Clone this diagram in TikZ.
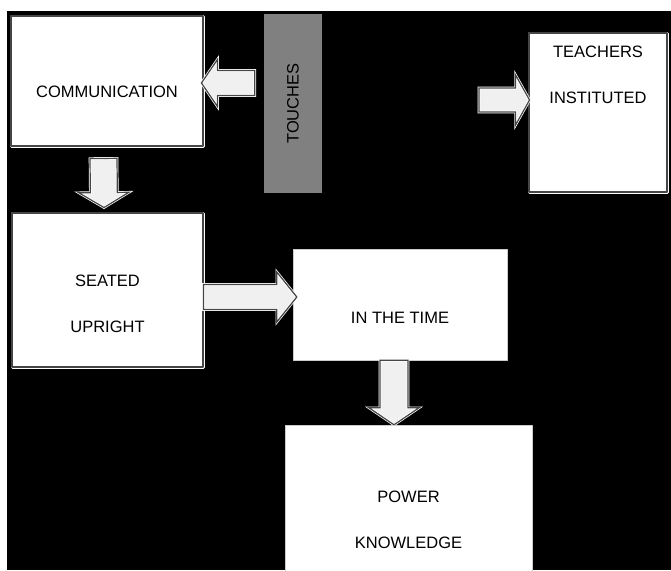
\documentclass[tikz,border=0pt]{standalone}
\usepackage{fontspec}
\setmainfont{Liberation Sans}
\usetikzlibrary{calc}
\definecolor{touchgray}{RGB}{128,128,128}
\definecolor{arrfill}{RGB}{240,240,240}
\definecolor{arrline}{RGB}{70,70,70}
\tikzset{
	ashaft/.store in=\ashaft, ahead/.store in=\ahead, alen/.store in=\alen,
	ashaft=13pt, ahead=25pt, alen=16pt,
	blockarr/.style={fill=arrfill, draw=white, double=arrline, double distance=1.2pt, line width=0.7pt, line join=miter,
		to path={($(\tikztotarget)!\alen!(\tikztostart)$) coordinate (hb)
			($(\tikztostart)!\ashaft!90:(\tikztotarget)$) -- ($(hb)!\ashaft!90:(\tikztotarget)$)
			-- ($(hb)!\ahead!90:(\tikztotarget)$) -- (\tikztotarget) -- ($(hb)!\ahead!-90:(\tikztotarget)$)
			-- ($(hb)!\ashaft!-90:(\tikztotarget)$) -- ($(\tikztostart)!\ashaft!-90:(\tikztotarget)$) -- cycle}},
	framebox/.style={rectangle, fill=white, draw=white, double=arrline, double distance=1.2pt, line width=0.9pt, inner sep=0pt},
	plainbox/.style={rectangle, fill=white, draw=gray!40, line width=0.4pt, inner sep=0pt},
	lbl/.style={font=\fontsize{16.5}{46}\selectfont, align=center, text=black}
}
\begin{document}
\begin{tikzpicture}[x=1pt, y=-1pt, line join=round]
	\useasboundingbox (0,0) rectangle (671,570);
	\fill[black] (7,11) rectangle (671,570); % nền đen
	
	\node[framebox, minimum width=192, minimum height=130, label={[lbl, yshift=-11]center:COMMUNICATION}] (comm) at (107,81) {};
	\node[rectangle, fill=touchgray, inner sep=0pt, minimum width=58, minimum height=179, label={[lbl, rotate=90]center:TOUCHES}] (touch) at (293,103.5) {};
	\node[framebox, minimum width=138, minimum height=159, label={[lbl, yshift=37.5]center:{TEACHERS\\INSTITUTED}}] (teach) at (598,112.5) {};
	\node[framebox, minimum width=191, minimum height=154, label={[lbl, yshift=-13.5]center:{SEATED\\UPRIGHT}}] (seat) at (107.5,290) {};
	\node[plainbox, minimum width=214, minimum height=111, label={[lbl, yshift=-13.5]center:IN THE TIME}] (time) at (400,304.5) {};
	\node[plainbox, minimum width=247, minimum height=150, label={[lbl, yshift=-19.5]center:{POWER\\KNOWLEDGE}}] (power) at (408.5,500) {};
	
	\coordinate (tfree) at (479,100);
	
	\draw[blockarr, ashaft=12.5pt, ahead=23.5pt] ($(touch.west |- comm.east)+(-9,2)$) to ($(comm.east)+(-2,2)$);
	\draw[blockarr, ashaft=13.5pt, alen=15pt] ($(comm.south)+(-3.5,12)$) to ($(seat.north)+(-3.5,-5)$);
	\draw[blockarr, ashaft=12pt, alen=14pt] (tfree) to ($(teach.west)+(1,-12.5)$);
	\draw[blockarr, ashaft=12.5pt, alen=20pt] ($(seat.east)+(0,7)$) to ($(time.west)+(4,-7.5)$);
	\draw[blockarr, ashaft=14pt, alen=17pt] ($(time.south)+(-6,0)$) to ($(power.north)+(-14.5,0)$);
\end{tikzpicture}
\end{document}
